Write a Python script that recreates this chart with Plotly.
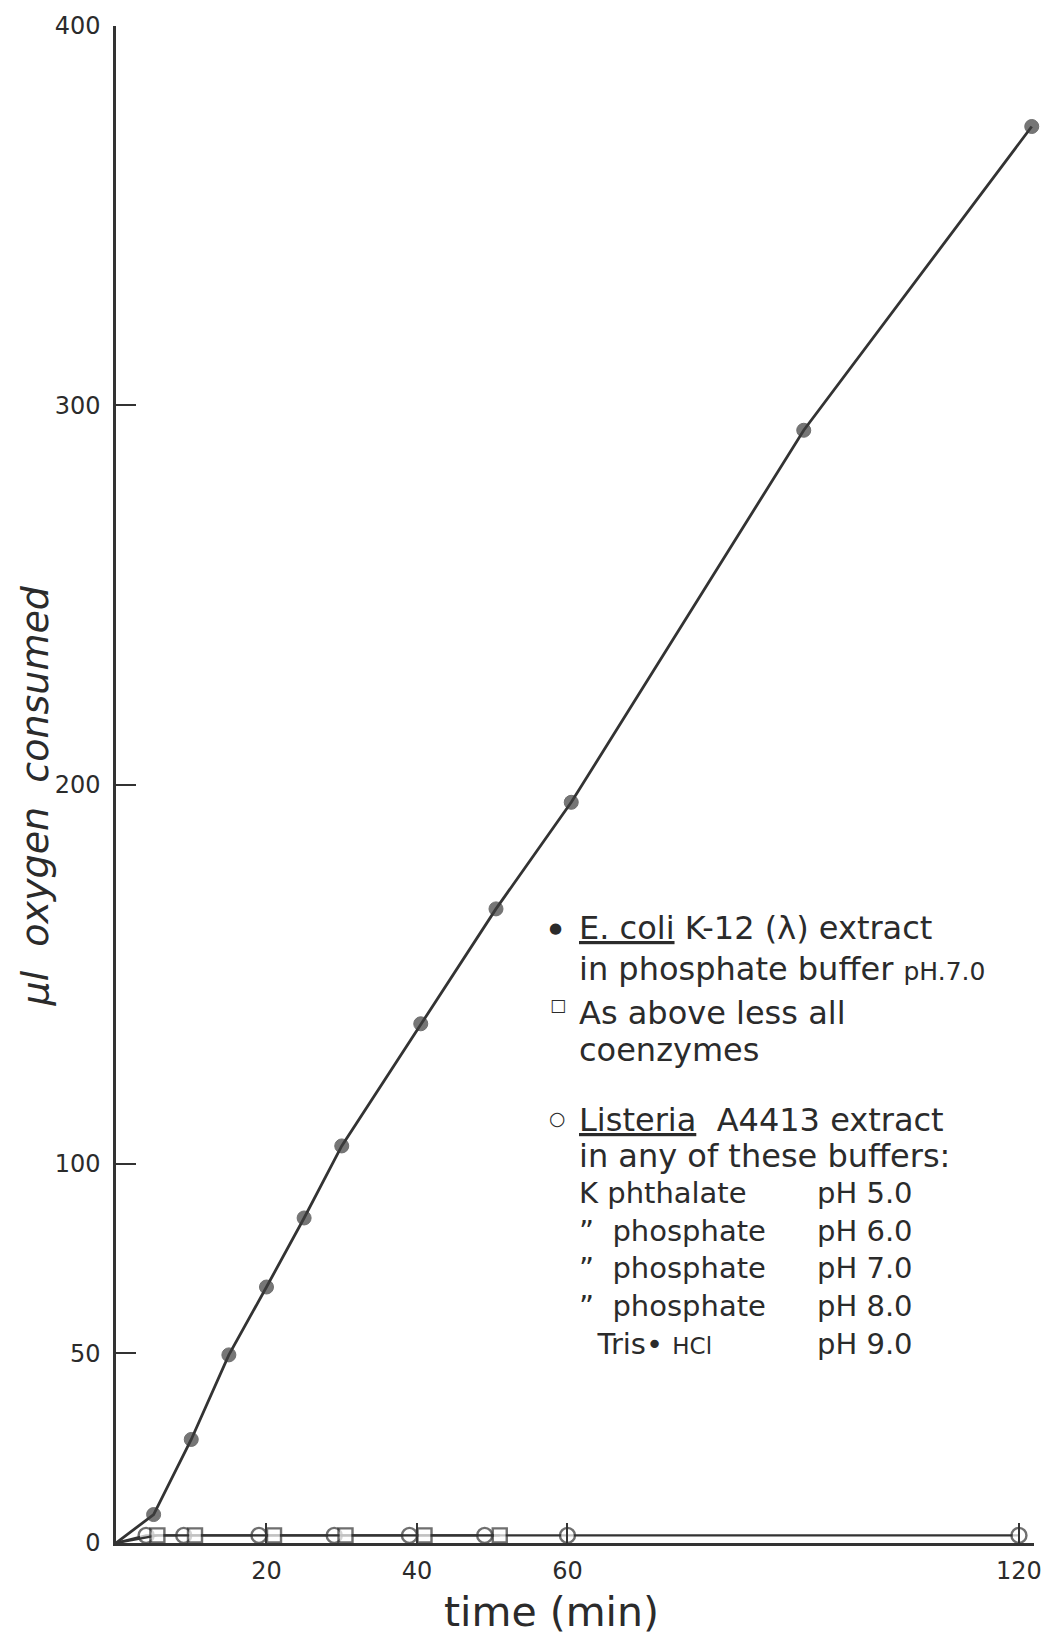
import plotly.graph_objects as go

# ---- data ----
time_ecoli = [0, 5, 10, 15, 20, 25, 30, 40.5, 50.5, 60.5, 91.4, 121.7]
o2_ecoli = [0, 7.5, 27.3, 49.6, 67.5, 85.7, 104.7, 136.9, 167.2, 195.3, 293.4, 373.5]

time_nocoenz = [0, 5.5, 10.5, 21, 30.5, 41, 51]
o2_nocoenz = [0, 2, 2, 2, 2, 2, 2]

time_listeria = [0, 4, 9, 19, 29, 39, 49, 60, 120]
o2_listeria = [0, 2, 2, 2, 2, 2, 2, 2, 2]

x_ticks = [20, 40, 60, 120]
x_ticklabels = ["20", "40", "60", "120"]
y_ticks = [0, 50, 100, 200, 300, 400]
y_ticklabels = ["0", "50", "100", "200", "300", "400"]

legend_lines = [
    ("<u>E. coli</u> K-12 (λ) extract", 928),
    ("in phosphate buffer <span style='font-size:25px'>pH.7.0</span>", 969),
    ("As above less all", 1013),
    ("coenzymes", 1050),
    ("<u>Listeria</u>  A4413 extract", 1120),
    ("in any of these buffers:", 1156),
]
buffer_names = ["K phthalate", "\u201d  phosphate", "\u201d  phosphate", "\u201d  phosphate",
                "  Tris\u2022 <span style='font-size:23px'>HCl</span>"]
buffer_ph = ["pH 5.0", "pH 6.0", "pH 7.0", "pH 8.0", "pH 9.0"]

# ---- styling ----
W, H = 1054, 1638
ML, MR, MT, MB = 116, 14, 26, 95
INK = "#333333"
TXT = "#2b2b2b"
FONT = "DejaVu Sans"


def px(xp):
    return (xp - ML) / (W - ML - MR)


def py(yp):
    return (H - MB - yp) / (H - MT - MB)


def msize(n, s):
    return [0] + [s] * (n - 1)


fig = go.Figure()

fig.add_trace(go.Scatter(
    x=time_listeria, y=o2_listeria, mode="lines+markers",
    line=dict(color=INK, width=2.4),
    marker=dict(symbol="circle", size=msize(len(time_listeria), 15), color="white",
                line=dict(color=INK, width=2.4)),
    cliponaxis=False, showlegend=False))

fig.add_trace(go.Scatter(
    x=time_nocoenz, y=o2_nocoenz, mode="lines+markers",
    line=dict(color=INK, width=2.4),
    marker=dict(symbol="square", size=msize(len(time_nocoenz), 14), color="white",
                line=dict(color=INK, width=2.4)),
    cliponaxis=False, showlegend=False))

fig.add_trace(go.Scatter(
    x=time_ecoli, y=o2_ecoli, mode="lines+markers",
    line=dict(color=INK, width=2.8),
    marker=dict(symbol="circle", size=msize(len(time_ecoli), 14), color="#3d3d3d",
                line=dict(color=INK, width=1)),
    cliponaxis=False, showlegend=False))

ann = []
# legend symbols
ann.append(dict(x=px(558), y=py(928), text="●", font=dict(size=15, color=TXT, family=FONT)))
ann.append(dict(x=px(561), y=py(1005), text="□", font=dict(size=17, color=TXT, family=FONT)))
ann.append(dict(x=px(560), y=py(1118), text="○", font=dict(size=19, color=TXT, family=FONT)))
for text, yp in legend_lines:
    ann.append(dict(x=px(580), y=py(yp), text=text, xanchor="left",
                    font=dict(size=32, color=TXT, family=FONT)))
# buffer table (one block per column, lines spaced by the font)
ann.append(dict(x=px(580), y=py(1268), text="<br>".join(buffer_names), xanchor="left",
                align="left", font=dict(size=29, color=TXT, family=FONT)))
ann.append(dict(x=px(820), y=py(1268), text="<br>".join(buffer_ph), xanchor="left",
                align="left", font=dict(size=29, color=TXT, family=FONT)))
# axis titles
ann.append(dict(x=px(554), y=py(1612), text="time (min)",
                font=dict(size=41, color=TXT, family=FONT)))
ann.append(dict(x=px(34), y=py(796), text="<i>μl  oxygen  consumed</i>", textangle=-90,
                font=dict(size=38, color=TXT, family=FONT)))

for a in ann:
    a.setdefault("xanchor", "center")
    a.update(xref="paper", yref="paper", yanchor="middle", showarrow=False)

fig.update_layout(
    width=W, height=H,
    margin=dict(l=ML, r=MR, t=MT, b=MB),
    paper_bgcolor="white", plot_bgcolor="white",
    annotations=ann,
    xaxis=dict(range=[0, 122], showline=True, linecolor=INK, linewidth=2.5,
               showgrid=False, zeroline=False,
               tickmode="array", tickvals=x_ticks, ticktext=x_ticklabels,
               ticks="inside", ticklen=20, tickwidth=2, tickcolor=INK,
               ticklabelstandoff=4,
               tickfont=dict(size=24, color=TXT, family=FONT)),
    yaxis=dict(range=[0, 400], showline=True, linecolor=INK, linewidth=2.5,
               showgrid=False, zeroline=False,
               tickmode="array", tickvals=y_ticks, ticktext=y_ticklabels,
               ticks="inside", ticklen=20, tickwidth=2, tickcolor=INK,
               ticklabelstandoff=8,
               tickfont=dict(size=24, color=TXT, family=FONT)),
)

fig.write_html("out.html",
               config={"displayModeBar": False},
               post_script="document.body.style.margin='0';document.body.style.overflow='hidden';")
